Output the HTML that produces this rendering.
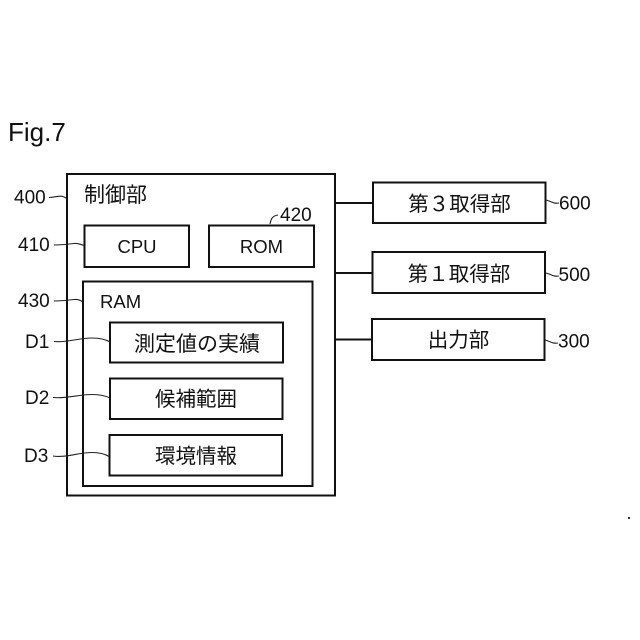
<!DOCTYPE html>
<html>
<head>
<meta charset="utf-8">
<style>
html,body{margin:0;padding:0;background:#fff;width:640px;height:640px;overflow:hidden}
svg{display:block}
text{font-family:"Liberation Sans","Noto Sans CJK JP",sans-serif;fill:#111}
.b{fill:none;stroke:#111;stroke-width:2}
.l{fill:none;stroke:#222;stroke-width:1.1}
.j{font-size:20.5px;text-anchor:middle}
.n{font-size:19px}
.m{font-size:18.5px;text-anchor:middle}
</style>
</head>
<body>
<svg width="640" height="640" viewBox="0 0 640 640" xmlns="http://www.w3.org/2000/svg">
<rect width="640" height="640" fill="#fff"/>
<text x="8" y="141" style="font-size:26px">Fig.7</text>

<rect class="b" x="67" y="174" width="268" height="321.5"/>
<rect class="b" x="84.5" y="225.5" width="104.5" height="41.5"/>
<rect class="b" x="209" y="225.5" width="105" height="41.5"/>
<rect class="b" x="83" y="281.5" width="229.5" height="204.5"/>
<rect class="b" x="110" y="322.5" width="173" height="40"/>
<rect class="b" x="110" y="378.5" width="172.5" height="40.5"/>
<rect class="b" x="109.5" y="435" width="172.5" height="40.5"/>
<rect class="b" x="373" y="182.5" width="172.5" height="40.5"/>
<rect class="b" x="372.5" y="252" width="172.5" height="41"/>
<rect class="b" x="372" y="319" width="172.5" height="41"/>

<path class="b" d="M335 203H373M335 273H372.500M335 339.500H372"/>

<path class="l" d="M49 197.500C55 197 60 195.500 63 196.500C65 197 66 198 67 199"/>
<path class="l" d="M54 245C62 245 70 244 74 243.500C78 243 81 244.500 84 245.500"/>
<path class="l" d="M54 301C62 301 70 300 74 299.500C78 299 81 300.500 83 302"/>
<path class="l" d="M270 224C271 219 272 216 278 215"/>
<path class="l" d="M54 341.500C66 343 78 338 92 338C100 338 105 339 110 342"/>
<path class="l" d="M53 397.500C66 399 78 394.500 92 394.500C100 394.500 105 395.500 110 398"/>
<path class="l" d="M53 456C66 458 78 452.500 92 452.500C100 452.500 105 454 109 456.500"/>
<path class="l" d="M546 200C551 201 553 204 559 203"/>
<path class="l" d="M546 273C551 274 553 277 559 276"/>
<path class="l" d="M545 340C550 341 552 344 558 343"/>

<text class="n" x="14" y="203.500">400</text>
<text class="n" x="18" y="251">410</text>
<text class="n" x="18" y="307">430</text>
<text class="n" x="280" y="221">420</text>
<text class="n" x="25" y="348">D1</text>
<text class="n" x="25" y="404">D2</text>
<text class="n" x="24" y="462">D3</text>
<text class="n" x="559" y="209.500">600</text>
<text class="n" x="558.500" y="281">500</text>
<text class="n" x="558" y="347.500">300</text>

<text x="84" y="202" style="font-size:21px">制御部</text>
<text class="m" x="137" y="253">CPU</text>
<text class="m" x="261.500" y="253">ROM</text>
<text x="100" y="308" style="font-size:18.500px">RAM</text>
<text class="j" x="197" y="351" style="font-size:21px">測定値の実績</text>
<text class="j" x="196" y="406">候補範囲</text>
<text class="j" x="196" y="463">環境情報</text>
<text class="j" x="459.500" y="211">第３取得部</text>
<text class="j" x="459" y="281">第１取得部</text>
<text class="j" x="458.500" y="347">出力部</text>

<rect x="628" y="517" width="2" height="2" fill="#333"/>
</svg>
</body>
</html>
